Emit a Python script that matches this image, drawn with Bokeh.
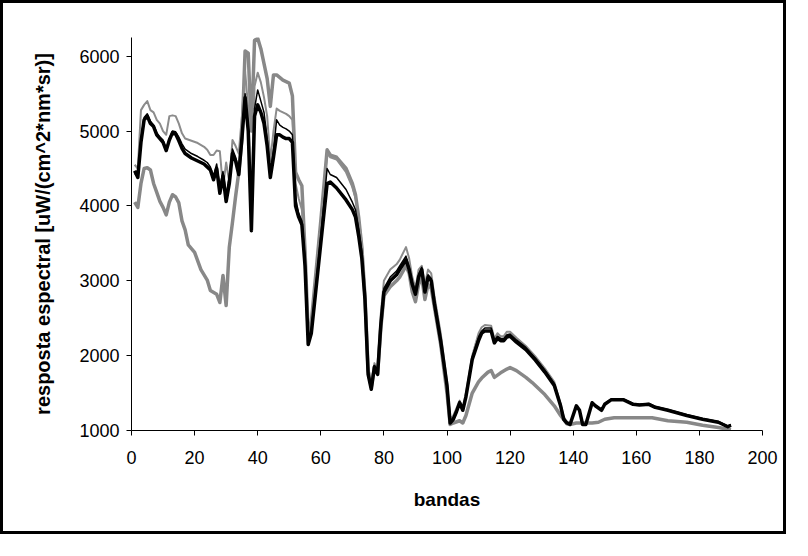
from bokeh.plotting import figure
from bokeh.models import Range1d, FixedTicker
from bokeh.embed import file_html
from bokeh.resources import INLINE

# ---- data ----
# gray thick series
bands_a = [1, 2, 3, 4, 5, 6, 7, 8, 9, 10, 11, 12, 13, 14, 15, 16, 17, 18, 20, 22, 24, 25, 27, 28, 29, 30,
           31, 32, 33, 34, 35, 36, 37, 38, 39, 40, 41, 42, 43, 44, 45, 46, 48, 50, 51, 52, 53, 54, 55, 56,
           57, 58, 60, 62, 63, 65, 68, 70, 71, 72, 73, 74, 75, 76, 77, 78, 79, 80, 82, 84, 85, 87, 88, 89,
           90, 91, 92, 93, 94, 95, 96, 98, 100, 101, 102, 104, 105, 106, 108, 110, 111, 113, 114, 115, 117,
           119, 120, 122, 123, 125, 127, 129, 131, 134, 136, 138, 139, 141, 144, 146, 148, 150, 153, 165,
           170, 176, 181, 186, 190]
vals_a = [4050, 3980, 4300, 4500, 4510, 4480, 4300, 4180, 4060, 3980, 3880, 4050, 4150, 4120, 4040, 3800,
          3680, 3480, 3380, 3150, 3010, 2870, 2820, 2710, 3070, 2670, 3450, 3780, 4130, 4450, 4900, 6070,
          6040, 5000, 6210, 6240, 6100, 5900, 5700, 5330, 5750, 5750, 5680, 5640, 5470, 4450, 4350, 4270,
          3400, 2300, 2450, 2900, 3800, 4750, 4680, 4650, 4500, 4300, 4150, 3850, 3450, 2800, 1800, 1580,
          1850, 1760, 2350, 2800, 2920, 3000, 3050, 3200, 3100, 2850, 2720, 2950, 3050, 2750, 2950, 2900,
          2650, 2150, 1500, 1080, 1100, 1130, 1100, 1200, 1500, 1650, 1700, 1780, 1800, 1710, 1770, 1820,
          1840, 1800, 1770, 1710, 1640, 1560, 1480, 1330, 1200, 1090, 1080, 1100, 1100, 1100, 1110, 1150,
          1170, 1170, 1130, 1110, 1070, 1040, 1010]

# gray thin series
bands_b = [1, 2, 3, 4, 5, 6, 7, 8, 9, 10, 11, 12, 13, 14, 15, 16, 17, 19, 21, 23, 24, 25, 26, 27, 28, 29,
           30, 31, 32, 33, 34, 35, 36, 37, 38, 39, 40, 41, 42, 43, 44, 45, 46, 47, 48, 49, 50, 51, 52, 53,
           54, 55, 56, 57, 58, 60, 62, 63, 65, 68, 70, 71, 72, 73, 74, 75, 76, 77, 78, 79, 80, 82, 84, 85,
           87, 88, 89, 90, 91, 92, 93, 94, 95, 96, 98, 100, 101, 102, 103, 104, 105, 106, 107, 108, 110,
           111, 112, 114, 115, 116, 117, 118, 119, 120, 122, 125, 128, 131, 134, 136, 137, 138, 139]
vals_b = [4550, 4500, 5280, 5350, 5400, 5280, 5250, 5150, 5100, 5000, 4950, 5200, 5210, 5200, 5100, 4970,
          4900, 4870, 4840, 4790, 4750, 4680, 4680, 4740, 4730, 4250, 4580, 4320, 4880, 4800, 4700, 5200,
          5800, 5300, 4000, 5600, 5780, 5650, 5450, 5200, 4600, 5000, 5300, 5270, 5250, 5230, 5200, 5150,
          4300, 4100, 3950, 3400, 2250, 2400, 2850, 3750, 4700, 4650, 4620, 4450, 4250, 4100, 3850, 3500,
          2900, 1850, 1620, 1900, 1820, 2550, 3000, 3150, 3220, 3280, 3450, 3300, 3050, 2900, 3150, 3200,
          2950, 3150, 3100, 2800, 2300, 1650, 1150, 1200, 1300, 1400, 1300, 1500, 1750, 2000, 2300, 2380,
          2410, 2400, 2230, 2300, 2260, 2260, 2320, 2320, 2240, 2130, 1990, 1830, 1650, 1360, 1180, 1120,
          1100]

# black series (shared band positions)
bands_k = [1, 2, 3, 4, 5, 6, 7, 8, 9, 10, 11, 12, 13, 14, 15, 16, 17, 19, 21, 23, 24, 25, 26, 27, 28, 29,
           30, 31, 32, 33, 34, 35, 36, 37, 38, 39, 40, 41, 42, 43, 44, 45, 46, 47, 48, 49, 50, 51, 52, 53,
           54, 55, 56, 57, 58, 60, 62, 63, 65, 68, 70, 71, 72, 73, 74, 75, 76, 77, 78, 79, 80, 82, 84, 85,
           87, 88, 89, 90, 91, 92, 93, 94, 95, 96, 98, 100, 101, 102, 103, 104, 105, 106, 107, 108, 110,
           111, 112, 114, 115, 116, 117, 118, 119, 120, 122, 125, 128, 131, 134, 136, 137, 138, 139, 141,
           142, 143, 144, 146, 147, 149, 150, 152, 156, 159, 161, 164, 166, 170, 176, 181, 186, 189, 190]
# black thick
vals_d = [4470, 4380, 4850, 5150, 5200, 5100, 5060, 4950, 4900, 4850, 4740, 4880, 4980, 4960, 4870, 4770,
          4700, 4640, 4600, 4560, 4520, 4480, 4350, 4500, 4170, 4400, 4060, 4300, 4700, 4600, 4420, 4900,
          5450, 5000, 3670, 5200, 5350, 5250, 5100, 4800, 4380, 4650, 4950, 4950, 4920, 4900, 4900, 4850,
          4000, 3850, 3750, 3200, 2150, 2300, 2700, 3500, 4300, 4320, 4240, 4080, 3950, 3850, 3600, 3300,
          2750, 1750, 1550, 1850, 1750, 2400, 2850, 3000, 3080, 3150, 3280, 3150, 2950, 2820, 3050, 3150,
          2850, 3050, 3000, 2700, 2200, 1600, 1100, 1150, 1250, 1370, 1270, 1450, 1700, 1950, 2200, 2300,
          2330, 2330, 2170, 2230, 2200, 2200, 2250, 2260, 2180, 2080, 1940, 1780, 1600, 1330, 1150, 1100,
          1080, 1330, 1270, 1080, 1080, 1370, 1330, 1270, 1350, 1410, 1410, 1350, 1340, 1350, 1310, 1270,
          1200, 1150, 1110, 1050, 1070]
# black thin
vals_e = [4430, 4400, 4900, 5180, 5230, 5130, 5080, 4980, 4920, 4880, 4760, 4900, 5000, 4990, 4920, 4830,
          4760, 4700, 4660, 4610, 4580, 4520, 4400, 4560, 4250, 4460, 4150, 4400, 4760, 4650, 4480, 4950,
          5500, 5050, 3700, 5300, 5550, 5400, 5250, 4900, 4450, 4750, 5150, 5080, 5050, 5030, 5000, 4950,
          4100, 3900, 3800, 3300, 2200, 2350, 2750, 3600, 4500, 4420, 4380, 4220, 4050, 3950, 3700, 3400,
          2800, 1800, 1580, 1870, 1780, 2450, 2900, 3050, 3130, 3200, 3330, 3180, 2980, 2860, 3080, 3180,
          2880, 3080, 3030, 2730, 2220, 1620, 1120, 1170, 1270, 1390, 1290, 1470, 1720, 1980, 2250, 2330,
          2370, 2370, 2200, 2260, 2230, 2230, 2280, 2290, 2210, 2110, 1970, 1810, 1630, 1350, 1170, 1110,
          1090, 1320, 1280, 1090, 1090, 1380, 1340, 1280, 1360, 1420, 1420, 1360, 1350, 1360, 1320, 1280,
          1210, 1160, 1120, 1060, 1080]

x_ticks = [0, 20, 40, 60, 80, 100, 120, 140, 160, 180, 200]
y_ticks = [1000, 2000, 3000, 4000, 5000, 6000]
x_title = "bandas"
y_title = "resposta espectral [uW/(cm^2*nm*sr)]"

FONT = "Liberation Sans"

p = figure(width=786, height=534, output_backend="svg", toolbar_location=None,
           x_range=Range1d(0, 200), y_range=Range1d(1000, 6250),
           min_border_left=128, min_border_right=27, min_border_top=34, min_border_bottom=107,
           styles={"border": "3px solid black"})
p.background_fill_color = "white"
p.border_fill_color = "white"
p.outline_line_color = None
p.grid.visible = False

p.line(bands_a, vals_a, line_color="#888888", line_width=3.5, line_join="round")
p.line(bands_b, vals_b, line_color="#8c8c8c", line_width=2, line_join="round")
p.line(bands_k, vals_d, line_color="black", line_width=3.5, line_join="round")
p.line(bands_k, vals_e, line_color="black", line_width=1.5, line_join="round")

for ax in (p.xaxis[0], p.yaxis[0]):
    ax.axis_line_color = "black"
    ax.axis_line_width = 1
    ax.major_tick_line_color = "black"
    ax.major_tick_in = 0
    ax.major_tick_out = 5
    ax.minor_tick_line_color = None
    ax.major_label_text_font = FONT
    ax.major_label_text_font_size = "18px"
    ax.major_label_text_color = "black"
    ax.axis_label_text_font = FONT
    ax.axis_label_text_font_style = "bold"
    ax.axis_label_text_color = "black"

p.xaxis.axis_label_text_font_size = "19px"
p.yaxis.axis_label_text_font_size = "20px"
p.xaxis.ticker = FixedTicker(ticks=x_ticks)
p.yaxis.ticker = FixedTicker(ticks=y_ticks)
p.xaxis.axis_label = x_title
p.yaxis.axis_label = y_title
p.xaxis.major_label_standoff = 15
p.xaxis.axis_label_standoff = 22
p.yaxis.major_label_standoff = 7
p.yaxis.axis_label_standoff = 22

open("out.html", "w").write(file_html(p, INLINE))
